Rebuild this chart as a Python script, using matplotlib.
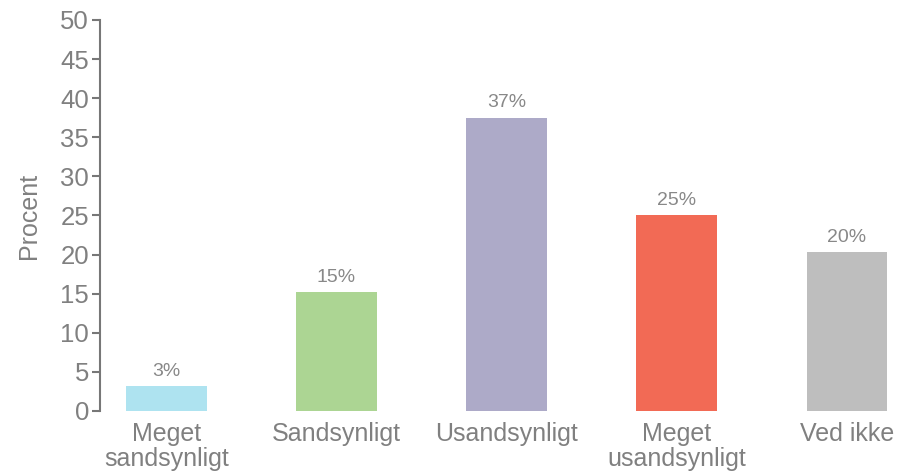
import matplotlib.pyplot as plt

# data
categories = ['Meget\nsandsynligt', 'Sandsynligt', 'Usandsynligt', 'Meget\nusandsynligt', 'Ved ikke']
values = [3.2, 15.2, 37.5, 25.0, 20.3]
labels = ['3%', '15%', '37%', '25%', '20%']
colors = ['#aee3f0', '#acd593', '#adaac8', '#f26a55', '#bebebe']
yticks = [0, 5, 10, 15, 20, 25, 30, 35, 40, 45, 50]

grey = '#808080'
plt.rcParams['font.family'] = ['Liberation Sans', 'DejaVu Sans']

fig = plt.figure(figsize=(8.98, 4.74), dpi=100)
ax = fig.add_axes([100 / 898, 63 / 474, 798 / 898, 391 / 474])

x = range(len(categories))
bars = ax.bar(x, values, width=0.475, color=colors)

for b, lab in zip(bars, labels):
    ax.text(b.get_x() + b.get_width() / 2, b.get_height() + 0.8, lab,
            ha='center', va='bottom', fontsize=14, color='#888888')

ax.set_xlim(-0.39, 4.3)
ax.set_ylim(0, 50)
ax.set_yticks(yticks)
ax.set_xticks(list(x))
ax.set_xticklabels(categories, fontsize=18, color=grey, linespacing=1.05)
ax.tick_params(axis='x', length=0, pad=8)
ax.tick_params(axis='y', labelsize=18.5, labelcolor=grey, color='#777777', length=6, width=1.5, pad=2)
ax.set_ylabel('Procent', fontsize=18, color=grey, labelpad=14)

for s in ['top', 'right', 'bottom']:
    ax.spines[s].set_visible(False)
ax.spines['left'].set_color('#777777')
ax.spines['left'].set_linewidth(1.5)

fig.savefig('out.png', dpi=100)
